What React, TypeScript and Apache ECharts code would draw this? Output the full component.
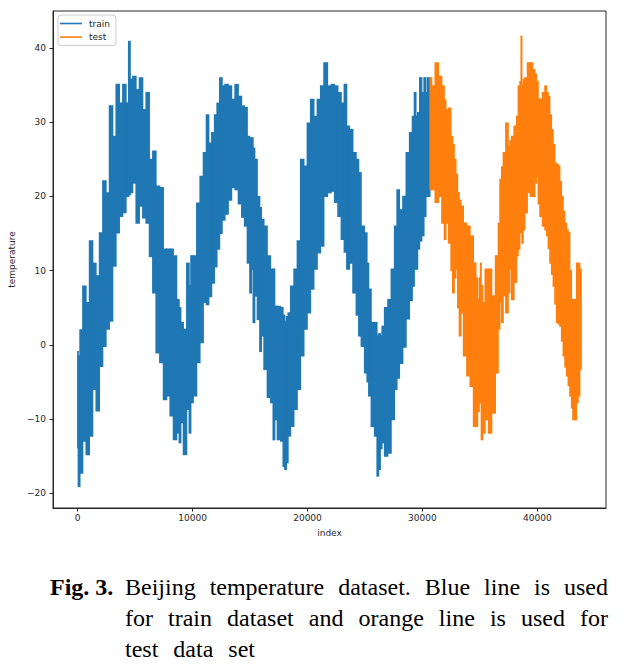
import React, { useEffect, useRef } from 'react';
import * as echarts from 'echarts';

// ---- data: [index, low envelope, high envelope] ----
const SPLIT_INDEX = 30660;
const LAST_INDEX = 43823;
const X_TICKS = [0, 10000, 20000, 30000, 40000];
const Y_TICKS = [-20, -10, 0, 10, 20, 30, 40];

const TRAIN_SAMPLES: [number, number, number][] = [
  [0, -13.9, -0.9], [90, -19.1, -1.5], [293, -17.3, 2.0], [583, -13.0, 7.9], [873, -14.8, 5.7],
  [1163, -12.3, 14.0], [1452, -6.0, 11.0], [1742, -8.9, 9.3], [2032, -2.9, 15.1], [2322, -0.2, 22.1],
  [2612, 2.1, 20.5], [2902, 3.2, 32.2], [3192, 10.6, 28.1], [3482, 15.1, 35.1], [3772, 17.3, 32.6],
  [4062, 17.8, 35.1], [4351, 20.0, 32.6], [4496, 20.2, 40.9], [4641, 20.5, 35.8], [4931, 21.8, 36.2],
  [5221, 16.4, 34.4], [5511, 18.7, 36.0], [5801, 17.1, 31.7], [6091, 16.4, 34.0], [6381, 11.9, 25.0],
  [6671, 7.0, 26.1], [6961, -1.1, 21.4],
  [7308, -2.4, 21.2], [7598, -7.4, 12.9], [7888, -6.9, 12.9], [8178, -9.6, 12.9], [8468, -12.8, 12.0],
  [8757, -11.9, 6.1], [8902, -13.2, 5.0], [9047, -10.5, 3.0], [9337, -14.8, 2.1], [9627, -8.7, 11.0],
  [9772, -11.9, 8.0], [9917, -7.8, 12.0], [10207, -6.9, 12.0], [10497, -2.4, 19.1], [10787, 0.3, 22.7],
  [11077, 5.7, 25.9], [11308, 5.4, 31.0], [11511, 6.5, 27.2], [11801, 8.3, 28.6], [12004, 10.5, 31.0],
  [12236, 12.9, 32.6], [12468, 15.0, 36.0], [12671, 16.8, 34.9], [12961, 17.6, 35.1], [13251, 19.5, 34.9],
  [13541, 21.2, 33.1], [13831, 20.9, 35.1], [14121, 19.0, 33.5], [14410, 17.2, 32.2],
  [14612, 16.0, 32.0], [14902, 11.0, 28.1], [15047, 7.0, 27.9], [15192, 10.2, 27.9], [15337, 3.0, 26.5],
  [15482, 6.6, 25.0], [15772, 3.4, 20.0], [15917, -0.9, 18.5], [16061, 1.2, 16.9], [16351, -3.3, 16.0],
  [16641, -7.1, 12.0], [16931, -7.8, 10.2], [17076, -12.8, 10.2], [17221, -10.1, 5.2], [17511, -12.8, 5.2],
  [17801, -13.0, 5.0], [17946, -16.4, 4.0], [18091, -16.8, 3.2], [18236, -15.9, 3.8], [18381, -12.3, 4.3],
  [18671, -11.0, 7.9], [18960, -8.7, 10.2], [19250, -6.0, 14.0], [19540, -1.5, 25.0], [19830, 2.1, 24.1],
  [20120, 4.3, 29.9], [20410, 7.5, 33.1], [20700, 10.2, 30.8], [20990, 12.4, 33.1], [21280, 13.3, 34.9],
  [21570, 20.0, 38.0],
  [21917, 20.5, 34.9], [22207, 20.7, 35.1], [22497, 19.2, 34.9], [22787, 17.3, 34.0], [23077, 14.2, 32.6],
  [23308, 12.5, 35.1], [23511, 10.2, 29.5], [23801, 11.0, 29.0], [24091, 7.0, 25.9], [24381, 4.0, 25.0],
  [24526, 1.2, 23.2], [24816, -0.2, 16.0], [25106, -3.8, 15.1], [25251, -5.0, 11.0], [25396, -6.9, 7.5],
  [25686, -11.0, 3.0], [25976, -12.3, 3.0], [26120, -17.7, 1.2], [26265, -16.8, 1.5], [26410, -14.0, 1.2],
  [26555, -13.2, 2.5], [26845, -15.0, 5.0], [27135, -14.6, 6.1], [27425, -10.1, 10.2], [27715, -6.0, 16.0],
  [27860, -4.5, 20.9], [28150, -2.5, 18.2], [28440, -0.3, 20.0], [28730, 3.5, 25.9], [29020, 6.0, 28.6],
  [29222, 7.9, 30.8], [29367, 10.2, 34.0], [29512, 10.2, 30.8], [29657, 12.9, 31.3], [29860, 14.0, 36.0],
  [30034, 14.7, 34.0], [30237, 17.3, 36.0], [30382, 20.0, 34.0], [30527, 20.0, 36.0],
];

const TEST_SAMPLES: [number, number, number][] = [
  [30671, 20.9, 36.0], [30961, 20.9, 34.9], [31251, 19.2, 38.0], [31541, 20.0, 36.2], [31831, 16.4, 34.9],
  [31976, 14.2, 33.0], [32121, 16.4, 31.7], [32411, 13.7, 31.9], [32556, 10.0, 28.1], [32701, 7.0, 27.0],
  [32846, 9.0, 25.0], [32991, 10.2, 23.0], [33136, 5.0, 20.5], [33281, 1.2, 19.5], [33426, 4.3, 18.7],
  [33716, -1.5, 16.4], [34006, -4.2, 16.0], [34296, -5.6, 14.7], [34585, -11.0, 11.0], [34730, -11.0, 9.0],
  [34875, -9.0, 6.1], [35020, -7.8, 9.0], [35078, -7.8, 11.0], [35165, -12.8, 8.0], [35310, -11.9, 5.7],
  [35600, -10.1, 10.2], [35890, -11.9, 10.2], [36180, -9.2, 6.6], [36526, -3.8, 12.0], [36671, 2.1, 16.4],
  [36816, 5.7, 22.3], [36961, 3.0, 24.0], [37106, 6.6, 25.9], [37396, 4.3, 29.9], [37541, 7.0, 26.8],
  [37686, 10.2, 27.5], [37830, 6.1, 28.1], [38120, 8.4, 29.5], [38265, 12.0, 30.8], [38410, 12.9, 34.9],
  [38555, 15.1, 35.5], [38613, 15.1, 41.6], [38700, 13.7, 35.0], [38845, 15.5, 35.8], [38990, 17.8, 36.0],
  [39280, 20.5, 38.0], [39483, 20.0, 38.0], [39715, 20.0, 37.1], [39860, 21.8, 36.5], [40005, 22.7, 35.5],
  [40150, 19.0, 33.1], [40295, 17.3, 33.1], [40585, 16.0, 34.0], [40730, 15.5, 34.9], [40874, 14.7, 34.0],
  [41019, 13.0, 33.5], [41164, 11.0, 31.0], [41309, 9.5, 29.0], [41454, 7.9, 27.0], [41599, 5.5, 24.5],
  [41744, 3.0, 24.3], [41889, 2.8, 24.1], [42034, 2.5, 22.0], [42179, 0.5, 20.0], [42324, -1.5, 18.0],
  [42469, -3.0, 16.4], [42614, -4.2, 15.5], [42759, -5.5, 15.1], [42904, -6.9, 10.0], [43049, -8.5, 6.1],
  [43136, -10.1, 6.1], [43339, -10.1, 6.1], [43484, -7.8, 11.0], [43629, -6.9, 11.0], [43773, -3.3, 10.2],
];

const CAPTION_LEAD = 'Fig. 3.';
const CAPTION_LINES: string[][] = [
  ['Beijing', 'temperature', 'dataset.', 'Blue', 'line', 'is', 'used'],
  ['for', 'train', 'dataset', 'and', 'orange', 'line', 'is', 'used', 'for'],
  ['test', 'data', 'set'],
];

const BLUE = '#1f77b4';
const ORANGE = '#ff7f0e';
const INK = '#262626';

function toBlocks(samples: [number, number, number][], start: number, end: number) {
  return samples.map((s, i) => {
    const x0 = i === 0 ? start : (samples[i - 1][0] + s[0]) / 2;
    const x1 = i === samples.length - 1 ? end : (s[0] + samples[i + 1][0]) / 2;
    return [x0, x1, s[1], s[2]];
  });
}

function makeRender(color: string) {
  return (_params: any, api: any) => {
    const p0 = api.coord([api.value(0), api.value(3)]);
    const p1 = api.coord([api.value(1), api.value(2)]);
    return {
      type: 'rect',
      shape: {
        x: p0[0] - 0.6,
        y: p0[1] - 0.6,
        width: Math.max(p1[0] - p0[0], 0.5) + 1.2,
        height: p1[1] - p0[1] + 1.2,
      },
      style: { fill: color },
    };
  };
}

function measure(text: string, font: string) {
  const c = document.createElement('canvas').getContext('2d')!;
  c.font = font;
  return c.measureText(text).width;
}

function buildCaption() {
  const size = 24;
  const font = `${size}px "Liberation Serif", "Times New Roman", serif`;
  const bold = `bold ${size}px "Liberation Serif", "Times New Roman", serif`;
  const left = 125;
  const right = 608;
  const ys = [587, 618, 649];
  const els: any[] = [
    { type: 'text', x: 50, y: ys[0], style: { text: CAPTION_LEAD, font: bold, fill: '#000', verticalAlign: 'middle' } },
  ];
  CAPTION_LINES.forEach((words, li) => {
    const widths = words.map((w) => measure(w, font));
    const total = widths.reduce((a, b) => a + b, 0);
    const gap = li < 2 ? (right - left - total) / (words.length - 1) : 15;
    let x = left;
    words.forEach((w, wi) => {
      els.push({ type: 'text', x, y: ys[li], style: { text: w, font, fill: '#000', verticalAlign: 'middle' } });
      x += widths[wi] + gap;
    });
  });
  return els;
}

const fmt = (v: number) => (v < 0 ? '\u2212' + String(-v) : String(v));

export default function App() {
  const ref = useRef<HTMLDivElement>(null);
  useEffect(() => {
    const chart = echarts.init(ref.current!, null, { renderer: 'svg' });
    const tickFont = { fontFamily: 'DejaVu Sans', fontSize: 9, color: INK };
    chart.setOption({
      animation: false,
      backgroundColor: '#fff',
      grid: {
        left: 53, top: 11, width: 553, height: 497,
        show: true, borderColor: INK, borderWidth: 1, backgroundColor: '#fff',
        containLabel: false, outerBoundsMode: 'none',
      },
      legend: {
        orient: 'vertical', left: 58, top: 15,
        padding: [3, 6, 3, 2], itemGap: 2.6,
        itemWidth: 22, itemHeight: 1.6,
        backgroundColor: 'rgba(255,255,255,0.8)', borderColor: '#cccccc', borderWidth: 1, borderRadius: 3,
        selectedMode: false,
        textStyle: { fontFamily: 'DejaVu Sans', fontSize: 9, color: INK, lineHeight: 11, padding: [0, 0, 0, 2] },
        data: [{ name: 'train', icon: 'rect' }, { name: 'test', icon: 'rect' }],
      },
      xAxis: {
        type: 'value', min: -2150, max: 45980,
        name: 'index', nameLocation: 'middle', nameGap: 20,
        nameTextStyle: { fontFamily: 'DejaVu Sans', fontSize: 9, color: INK },
        axisLine: { show: true, onZero: false, lineStyle: { color: INK, width: 1 } },
        axisTick: { show: true, length: 3.5, customValues: X_TICKS, lineStyle: { color: INK, width: 1 } },
        axisLabel: { customValues: X_TICKS, margin: 5, formatter: fmt, ...tickFont },
        splitLine: { show: false },
      },
      yAxis: {
        type: 'value', min: -22, max: 45,
        name: 'temperature', nameLocation: 'middle', nameGap: 33, nameRotate: 90,
        nameTextStyle: { fontFamily: 'DejaVu Sans', fontSize: 9, color: INK },
        axisLine: { show: true, onZero: false, lineStyle: { color: INK, width: 1 } },
        axisTick: { show: true, length: 3.5, customValues: Y_TICKS, lineStyle: { color: INK, width: 1 } },
        axisLabel: { customValues: Y_TICKS, margin: 7, formatter: fmt, ...tickFont },
        splitLine: { show: false },
      },
      series: [
        {
          name: 'train', type: 'custom', clip: true,
          itemStyle: { color: BLUE },
          encode: { x: [0, 1], y: [2, 3] },
          renderItem: makeRender(BLUE),
          data: toBlocks(TRAIN_SAMPLES, 0, SPLIT_INDEX),
        },
        {
          name: 'test', type: 'custom', clip: true,
          itemStyle: { color: ORANGE },
          encode: { x: [0, 1], y: [2, 3] },
          renderItem: makeRender(ORANGE),
          data: toBlocks(TEST_SAMPLES, SPLIT_INDEX, LAST_INDEX),
        },
      ],
      graphic: buildCaption(),
    });
    return () => chart.dispose();
  }, []);
  return <div ref={ref} style={{ position: 'absolute', left: 0, top: 0, width: 628, height: 668 }} />;
}
